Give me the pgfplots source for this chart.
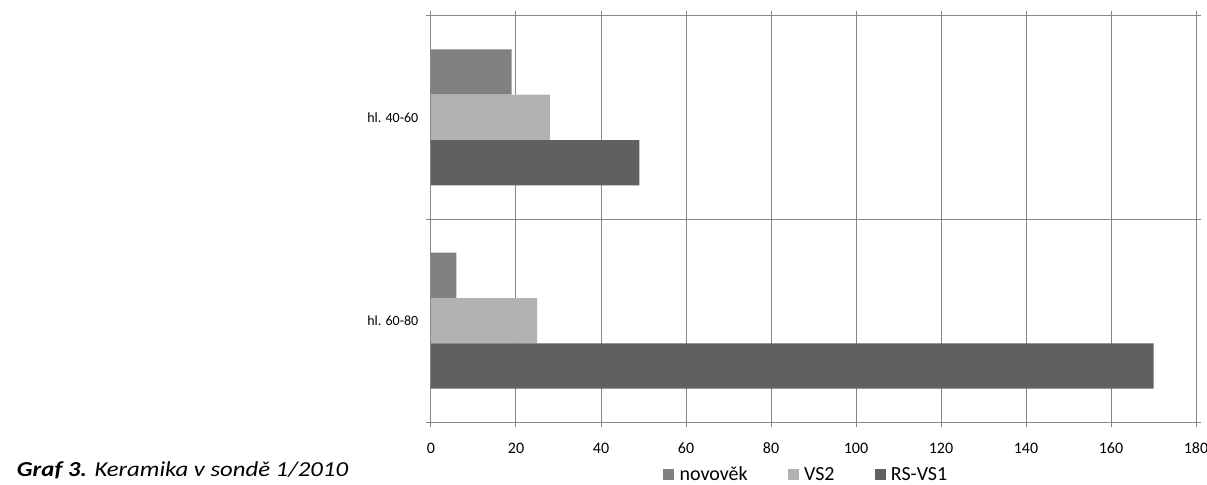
\documentclass[border=0pt]{standalone}
\usepackage{fontspec}
\setmainfont{Carlito}
\usepackage{pgfplots}
\pgfplotsset{compat=1.18}

\definecolor{novo}{RGB}{128,130,128}
\definecolor{vstwo}{RGB}{178,178,178}
\definecolor{rsvs}{RGB}{96,96,96}
\definecolor{gridc}{RGB}{134,134,134}

\begin{document}
\begin{tikzpicture}
% page = 1207x484 px at 0.75pt/px, axis box at origin
\useasboundingbox (-323.25pt,-46.3pt) rectangle (582pt,316.8pt);
\begin{axis}[
    at={(0,0)}, anchor=south west,
    scale only axis,
    width=573.75pt, height=305pt,
    xbar,
    bar width=0.223,
    xmin=0, xmax=180,
    ymin=-0.5, ymax=1.5,
    xtick={0,20,...,180},
    ytick={-0.5,0.5,1.5},
    yticklabels={},
    extra y ticks={0,1},
    extra y tick labels={hl. 60-80,hl. 40-60},
    extra y tick style={major tick length=0pt, grid=none,
        yticklabel style={xshift=-6pt}},
    xmajorgrids, ymajorgrids,
    grid style={gridc, line width=0.75pt},
    axis line style={gridc, line width=0.75pt},
    tick style={gridc, line width=0.75pt},
    tick align=outside,
    major tick length=3.75pt,
    /pgf/number format/assume math mode=true,
    xticklabel style={font=\fontsize{12}{14}\selectfont, yshift=-8pt},
    yticklabel style={font=\fontsize{10.5}{12}\selectfont},
    legend style={at={(0.298,-0.129)}, anchor=west, draw=none, fill=none,
        font=\fontsize{15}{17}\selectfont, legend columns=3,
        /tikz/every odd column/.append style={column sep=2pt},
        /tikz/every even column/.append style={column sep=28pt}},
    legend image code/.code={\fill[#1] (0pt,-4.1pt) rectangle (8.25pt,4.1pt);},
]
\addplot[fill=novo, draw=none, bar shift=0.223] coordinates {(6,0) (19,1)};
\addplot[fill=vstwo, draw=none, bar shift=0] coordinates {(25,0) (28,1)};
\addplot[fill=rsvs, draw=none, bar shift=-0.223] coordinates {(170,0) (49,1)};
\legend{novověk, VS2, RS-VS1}
\end{axis}
\node[anchor=base east, inner sep=0pt, font=\fontsize{16}{18}\selectfont\itshape]
    at (-62pt,-40.3pt) {\scalebox{1.16}[1]{\textbf{Graf 3.} Keramika v sondě 1/2010}};
\end{tikzpicture}
\end{document}
